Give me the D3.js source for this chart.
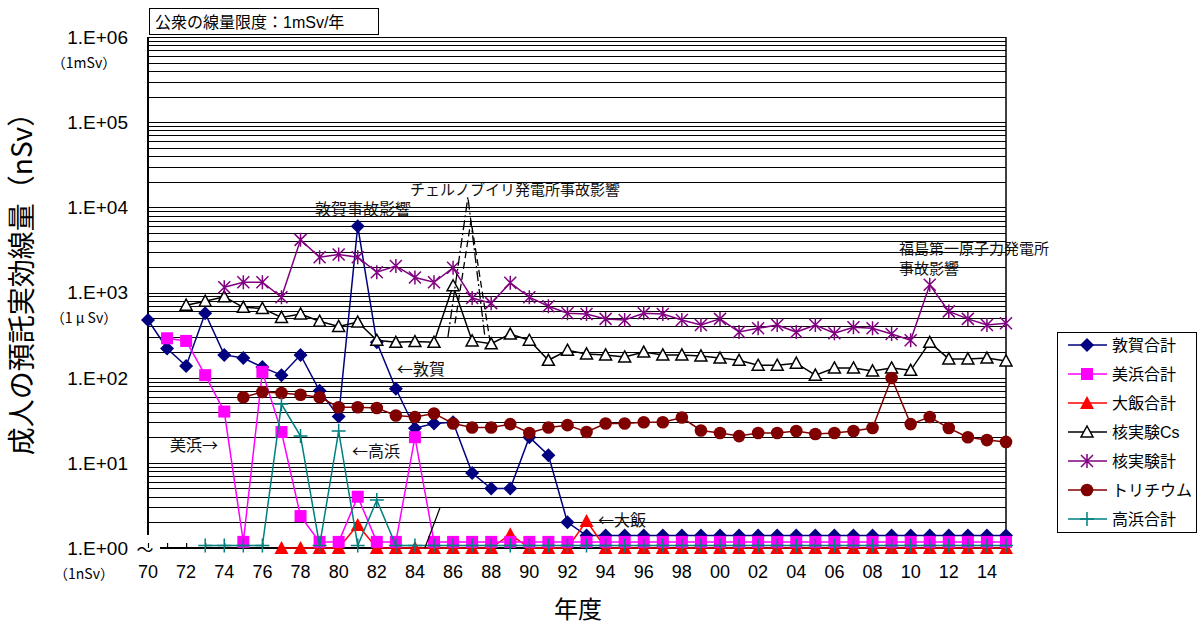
<!DOCTYPE html>
<html lang="ja">
<head>
<meta charset="UTF-8">
<title>成人の預託実効線量</title>
<script src="https://d3js.org/d3.v7.min.js"></script>
<style>
    body { margin: 0; background: #fff; }
    svg { display: block; font-family: "Liberation Sans", "Noto Sans CJK JP", sans-serif; }
    .jp { font-family: "Noto Sans CJK JP", "Liberation Sans", sans-serif; }
</style>
</head>
<body>
<svg id="chart" width="1199" height="626"></svg>
<script>
// years on the x axis (1970 - 2015)
const years = [1970,1971,1972,1973,1974,1975,1976,1977,1978,1979,
               1980,1981,1982,1983,1984,1985,1986,1987,1988,1989,
               1990,1991,1992,1993,1994,1995,1996,1997,1998,1999,
               2000,2001,2002,2003,2004,2005,2006,2007,2008,2009,
               2010,2011,2012,2013,2014,2015]
const xLabels = ["70","72","74","76","78","80","82","84","86","88","90","92","94","96","98",
                 "00","02","04","06","08","10","12","14"]
const yLabels = ["1.E+00","1.E+01","1.E+02","1.E+03","1.E+04","1.E+05","1.E+06"]

// values in nSv (values near 1 are the "zero" rows)
const tsuruga = [475,220,137,570,185,170,133,107,185,70,
                 35,6000,260,74,25.5,29,30,7.6,5,5,
                 20,12.3,2,1.4,1.4,1.4,1.4,1.4,1.4,1.4,
                 1.4,1.4,1.4,1.4,1.4,1.4,1.4,1.4,1.4,1.4,
                 1.4,1.4,1.4,1.4,1.4,1.4]
const mihama = [null,290,270,107,40,1.18,117,23,2.37,1.18,
                1.18,4,1.18,1.18,20,1.18,1.18,1.18,1.18,1.18,
                1.18,1.18,1.18,1.18,1.18,1.18,1.18,1.18,1.18,1.18,
                1.18,1.18,1.18,1.18,1.18,1.18,1.18,1.18,1.18,1.18,
                1.18,1.18,1.18,1.18,1.18,1.18]
const ohi = [null,null,null,null,null,null,null,1,1,1,
             1,1.86,1,1,1,1,1,1,1,1.45,
             1,1,1,2.07,1,1,1,1,1,1,
             1,1,1,1,1,1,1,1,1,1,
             1,1,1,1,1,1]
const testCs = [null,null,710,790,890,670,650,510,560,460,
                400,450,275,260,265,260,1200,270,250,325,
                275,160,210,190,185,175,200,185,185,180,
                170,160,140,140,148,107,130,130,120,130,
                122,260,166,166,170,157]
const testTotal = [null,null,null,null,1150,1320,1320,880,4150,2600,
                   2800,2600,1730,2050,1500,1320,1950,860,750,1300,
                   880,690,570,560,490,475,570,560,475,415,
                   490,343,380,415,343,415,333,390,380,325,
                   275,1230,600,490,415,435]
const tritium = [null,null,null,null,null,59,68,66,63,59,
                 45,45,44,36,34.5,38,29,26,26,28.5,
                 22.4,26,27.7,23,29,29,30,30,34,24,
                 22.4,20.6,22.4,22.4,23.6,21.8,22.4,23.6,25.6,99,
                 28.5,34.5,25.6,20,18.5,17.6]
const takahama = [null,null,null,1.07,1.07,1.07,1.07,49,20.6,1.07,
                  23.6,1.07,3.65,1.07,1.07,1.07,1.07,1.07,1.07,1.07,
                  1.07,1.07,1.07,1.07,1.07,1.07,1.07,1.07,1.07,1.07,
                  1.07,1.07,1.07,1.07,1.07,1.07,1.07,1.07,1.07,1.07,
                  1.07,1.07,1.07,1.07,1.07,1.07]

// chernobyl spike sketch lines [year, value]
const chernA = [[1985.73,300],[1986.78,13200],[1987.67,300]]
const chernB = [[1986.1,435],[1986.94,7000],[1987.93,275]]
const breakLine = [[1984.52,1],[1985.31,2.95]]

const series = [
    {name:"敦賀合計", values:tsuruga, color:"#000080", marker:"diamond"},
    {name:"美浜合計", values:mihama, color:"#FF00FF", marker:"square"},
    {name:"大飯合計", values:ohi, color:"#FF0000", marker:"triangle"},
    {name:"核実験Cs", values:testCs, color:"#000000", marker:"openTriangle"},
    {name:"核実験計", values:testTotal, color:"#800080", marker:"star"},
    {name:"トリチウム", values:tritium, color:"#800000", marker:"circle"},
    {name:"高浜合計", values:takahama, color:"#008080", marker:"plus"}
]
// drawing order (magenta above red at the bottom row)
const drawOrder = ["敦賀合計","大飯合計","美浜合計","核実験Cs","核実験計","トリチウム","高浜合計"]

const svg = d3.select("#chart")

const x = d3.scaleLinear().domain([1970, 2015]).range([148, 1006])
const y = d3.scaleLog().domain([1, 1e6]).range([548, 37])

// grid lines (major + minor of the log scale)
let gridVals = []
for (let k = 0; k < 6; k++) {
    for (let m = 1; m <= 9; m++) {
        if (k === 0 && m === 1) continue
        gridVals.push(m * Math.pow(10, k))
    }
}
gridVals.push(1e6)

svg.append("g")
    .selectAll("line")
    .data(gridVals)
    .enter()
    .append("line")
    .attr("x1", x(1970))
    .attr("x2", x(2015))
    .attr("y1", d => Math.round(y(d)) + 0.5)
    .attr("y2", d => Math.round(y(d)) + 0.5)
    .attr("stroke", "#000")
    .attr("stroke-width", 1.2)

// frame: left axis (broken near the bottom), right edge, bottom axis
svg.append("line")
    .attr("x1", x(1970)).attr("x2", x(1970))
    .attr("y1", y(1e6)).attr("y2", y(1) - 13)
    .attr("stroke", "#000").attr("stroke-width", 2)
svg.append("line")
    .attr("x1", x(2015)).attr("x2", x(2015))
    .attr("y1", y(1e6)).attr("y2", y(1))
    .attr("stroke", "#000").attr("stroke-width", 1.5)

// x axis with inward ticks
const xAxis = d3.axisBottom(x)
    .tickValues(years)
    .tickSizeInner(-5)
    .tickSizeOuter(0)
    .tickFormat("")
const xg = svg.append("g")
    .attr("transform", "translate(0," + y(1) + ")")
    .call(xAxis)
xg.select(".domain").remove()
xg.selectAll(".tick line").attr("stroke", "#000").attr("stroke-width", 1.2)
svg.append("line")
    .attr("x1", x(1970) + 12).attr("x2", x(2015))
    .attr("y1", y(1)).attr("y2", y(1))
    .attr("stroke", "#000").attr("stroke-width", 2)

// x tick labels
svg.append("g")
    .selectAll("text")
    .data(xLabels)
    .enter()
    .append("text")
    .attr("x", (d, i) => x(years[i * 2]))
    .attr("y", 572)
    .attr("dy", "0.35em")
    .attr("text-anchor", "middle")
    .attr("font-size", 18)
    .text(d => d)

// y tick labels
svg.append("g")
    .selectAll("text")
    .data(yLabels)
    .enter()
    .append("text")
    .attr("x", 128)
    .attr("y", (d, i) => y(Math.pow(10, i)))
    .attr("dy", "0.36em")
    .attr("text-anchor", "end")
    .attr("font-size", 19)
    .text(d => d)

svg.append("text").attr("class", "jp")
    .attr("x", 145).attr("y", y(1) + 2).attr("dy", "0.35em")
    .attr("text-anchor", "middle").attr("font-size", 17).text("～")

const unitNotes = [["（1mSv）", 1e6], ["（1 μ Sv）", 1e3], ["（1nSv）", 1]]
svg.append("g")
    .selectAll("text")
    .data(unitNotes)
    .enter()
    .append("text")
    .attr("class", "jp")
    .attr("x", 84)
    .attr("y", d => y(d[1]) + 26)
    .attr("dy", "0.35em")
    .attr("text-anchor", "middle")
    .attr("font-size", 14)
    .text(d => d[0])

// axis titles
svg.append("text")
    .attr("class", "jp")
    .attr("transform", "translate(22,277) rotate(-90)")
    .attr("dy", "0.35em")
    .attr("text-anchor", "middle")
    .attr("font-size", 28)
    .text("成人の預託実効線量（nSv）")
svg.append("text")
    .attr("class", "jp")
    .attr("x", 578).attr("y", 610).attr("dy", "0.35em")
    .attr("text-anchor", "middle")
    .attr("font-size", 24)
    .text("年度")

// title box
svg.append("rect")
    .attr("x", 149.5).attr("y", 8.5).attr("width", 229).attr("height", 26)
    .attr("fill", "#fff").attr("stroke", "#000").attr("stroke-width", 1)
svg.append("text")
    .attr("x", 155).attr("y", 22).attr("dy", "0.35em")
    .attr("font-size", 16)
    .text("公衆の線量限度：1mSv/年")

// marker shapes
function drawMarker(g, type, color) {
    if (type === "diamond") {
        g.append("path").attr("d", "M0,-7L7,0L0,7L-7,0Z").attr("fill", color)
    } else if (type === "square") {
        g.append("rect").attr("x", -6).attr("y", -6).attr("width", 12).attr("height", 12).attr("fill", color)
    } else if (type === "triangle") {
        g.append("path").attr("d", "M0,-7L7,6L-7,6Z").attr("fill", color)
    } else if (type === "openTriangle") {
        g.append("path").attr("d", "M0,-6L6,5L-6,5Z").attr("fill", "#fff")
            .attr("stroke", color).attr("stroke-width", 1.5)
    } else if (type === "star") {
        g.append("path").attr("d", "M0,-7L0,7M-6,-6L6,6M-6,6L6,-6")
            .attr("stroke", color).attr("stroke-width", 1.5).attr("fill", "none")
    } else if (type === "circle") {
        g.append("circle").attr("r", 6.3).attr("fill", color)
    } else if (type === "plus") {
        g.append("path").attr("d", "M-7,0L7,0M0,-7L0,7")
            .attr("stroke", color).attr("stroke-width", 1.5).attr("fill", "none")
    }
}

const lineGen = d3.line()
    .defined(d => d[1] !== null)
    .x(d => x(d[0]))
    .y(d => y(d[1]))

drawOrder.forEach(name => {
    const s = series.find(e => e.name === name)
    const pts = years.map((yr, i) => [yr, s.values[i]])
    const g = svg.append("g")
    g.append("path")
        .attr("d", lineGen(pts))
        .attr("fill", "none")
        .attr("stroke", s.color)
        .attr("stroke-width", 1.5)
    pts.filter(p => p[1] !== null).forEach(p => {
        const m = g.append("g").attr("transform", "translate(" + x(p[0]) + "," + y(p[1]) + ")")
        drawMarker(m, s.marker, s.color)
    })
})

// chernobyl sketch lines and small break line
svg.append("path").attr("d", lineGen(chernA)).attr("fill", "none")
    .attr("stroke", "#000").attr("stroke-width", 1.3).attr("stroke-dasharray", "10,3,2,3")
svg.append("path").attr("d", lineGen(chernB)).attr("fill", "none")
    .attr("stroke", "#000").attr("stroke-width", 1.3).attr("stroke-dasharray", "7,4")
svg.append("path").attr("d", lineGen(breakLine)).attr("fill", "none")
    .attr("stroke", "#000").attr("stroke-width", 1.2)

// annotations
const notes = [
    ["敦賀事故影響", 315, 209, 16],
    ["チェルノブイリ発電所事故影響", 410, 190, 15],
    ["福島第一原子力発電所", 899, 249, 15],
    ["事故影響", 899, 269, 15],
    ["←敦賀", 397, 369, 16],
    ["美浜→", 170, 445, 16],
    ["←高浜", 352, 451, 16],
    ["←大飯", 598, 520, 16]
]
svg.append("g")
    .selectAll("text")
    .data(notes)
    .enter()
    .append("text")
    .attr("class", "jp")
    .attr("x", d => d[1])
    .attr("y", d => d[2])
    .attr("dy", "0.35em")
    .attr("font-size", d => d[3])
    .attr("fill", "#111")
    .text(d => d[0])

// legend
const legend = svg.append("g")
legend.append("rect")
    .attr("x", 1057.5).attr("y", 332.5).attr("width", 139).attr("height", 200)
    .attr("fill", "#fff").attr("stroke", "#000").attr("stroke-width", 1)
series.forEach((s, i) => {
    const ly = 345 + i * 29
    legend.append("line")
        .attr("x1", 1068).attr("x2", 1107).attr("y1", ly).attr("y2", ly)
        .attr("stroke", s.color).attr("stroke-width", 1.5)
    const m = legend.append("g").attr("transform", "translate(1087," + ly + ")")
    drawMarker(m, s.marker, s.color)
    legend.append("text")
        .attr("x", 1112).attr("y", ly).attr("dy", "0.35em")
        .attr("font-size", 16)
        .text(s.name)
})
</script>
</body>
</html>
